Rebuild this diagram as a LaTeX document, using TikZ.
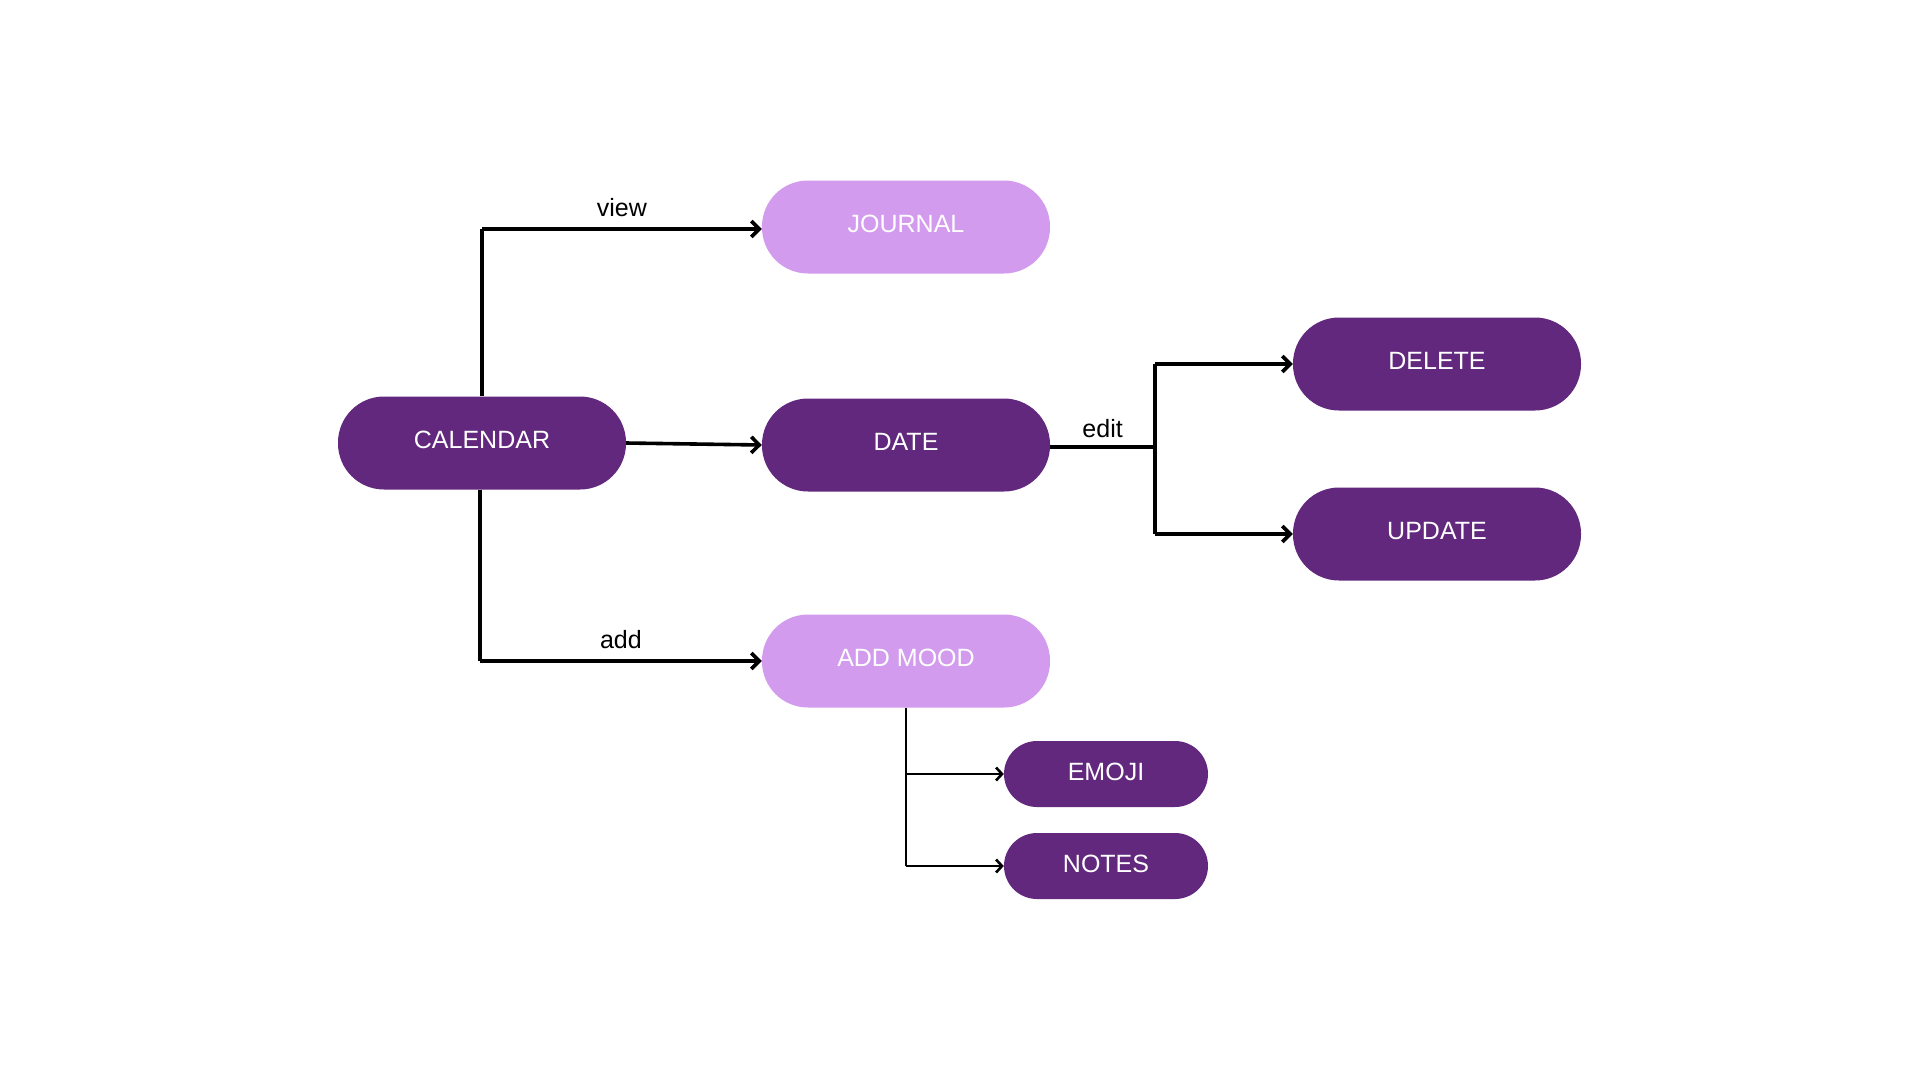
\documentclass[tikz,border=0pt]{standalone}
\usepackage{fontspec}
\setmainfont{Liberation Sans}
\usetikzlibrary{arrows.meta}
\definecolor{darkp}{HTML}{62287D}
\definecolor{lightp}{HTML}{D29BEE}
\tikzset{
  bigbox/.style={rectangle, rounded corners=46pt, minimum width=288pt, minimum height=93pt, inner sep=0pt, text=white, font=\fontsize{25}{29}\selectfont, text height=18pt, text depth=7pt},
  smallbox/.style={rectangle, rounded corners=33pt, minimum width=204pt, minimum height=66pt, inner sep=0pt, text=white, font=\fontsize{25}{29}\selectfont, text height=18pt, text depth=6pt},
  darkbox/.style={fill=darkp},
  lightbox/.style={fill=lightp},
  conn/.style={line width=3.6pt, -{Straight Barb[length=8pt,width=16pt,line width=3.6pt]}},
  thinconn/.style={line width=2.6pt, -{Straight Barb[length=6pt,width=13pt,line width=2.6pt]}},
  trunk/.style={line width=3.6pt},
  thintrunk/.style={line width=2.8pt},
  lbl/.style={font=\fontsize{25}{29}\selectfont, text=black, inner sep=0pt}
}
\begin{document}
\begin{tikzpicture}[x=1pt,y=-1pt]
\useasboundingbox[fill=white] (0,0) rectangle (1920,1080);
\node[bigbox,lightbox] (journal) at (906,227) {JOURNAL};
\node[bigbox,darkbox] (calendar) at (482,443) {CALENDAR};
\node[bigbox,darkbox] (date) at (906,445) {DATE};
\node[bigbox,darkbox] (delete) at (1437,364) {DELETE};
\node[bigbox,darkbox] (update) at (1437,534) {UPDATE};
\node[bigbox,lightbox] (addmood) at (906,661) {ADD MOOD};
\node[smallbox,darkbox] (emoji) at (1106,774) {EMOJI};
\node[smallbox,darkbox] (notes) at (1106,866) {NOTES};

\coordinate (vtop) at (482,229);
\coordinate (abot) at (480,661);
\coordinate (ej) at (1155,447);
\coordinate (mj) at (906,866);

\draw[trunk] (calendar.north) -- (vtop);
\draw[conn] (vtop) -- (vtop -| journal.west) node[lbl, midway, above=10pt] {view};
\draw[conn] (calendar.east) -- (date.west);
\draw[trunk] (calendar.south -| abot) -- (abot);
\draw[conn] (abot) -- (addmood.west) node[lbl, midway, above=10pt] {add};
\draw[trunk] (date.east |- ej) -- (ej) node[lbl, midway, above=7pt] {edit};
\draw[trunk] (ej |- delete) -- (ej |- update);
\draw[conn] (ej |- delete) -- (delete.west);
\draw[conn] (ej |- update) -- (update.west);
\draw[thintrunk] (addmood.south) -- (mj);
\draw[thinconn] (addmood.south |- emoji) -- (emoji.west);
\draw[thinconn] (mj) -- (notes.west);
\end{tikzpicture}
\end{document}
